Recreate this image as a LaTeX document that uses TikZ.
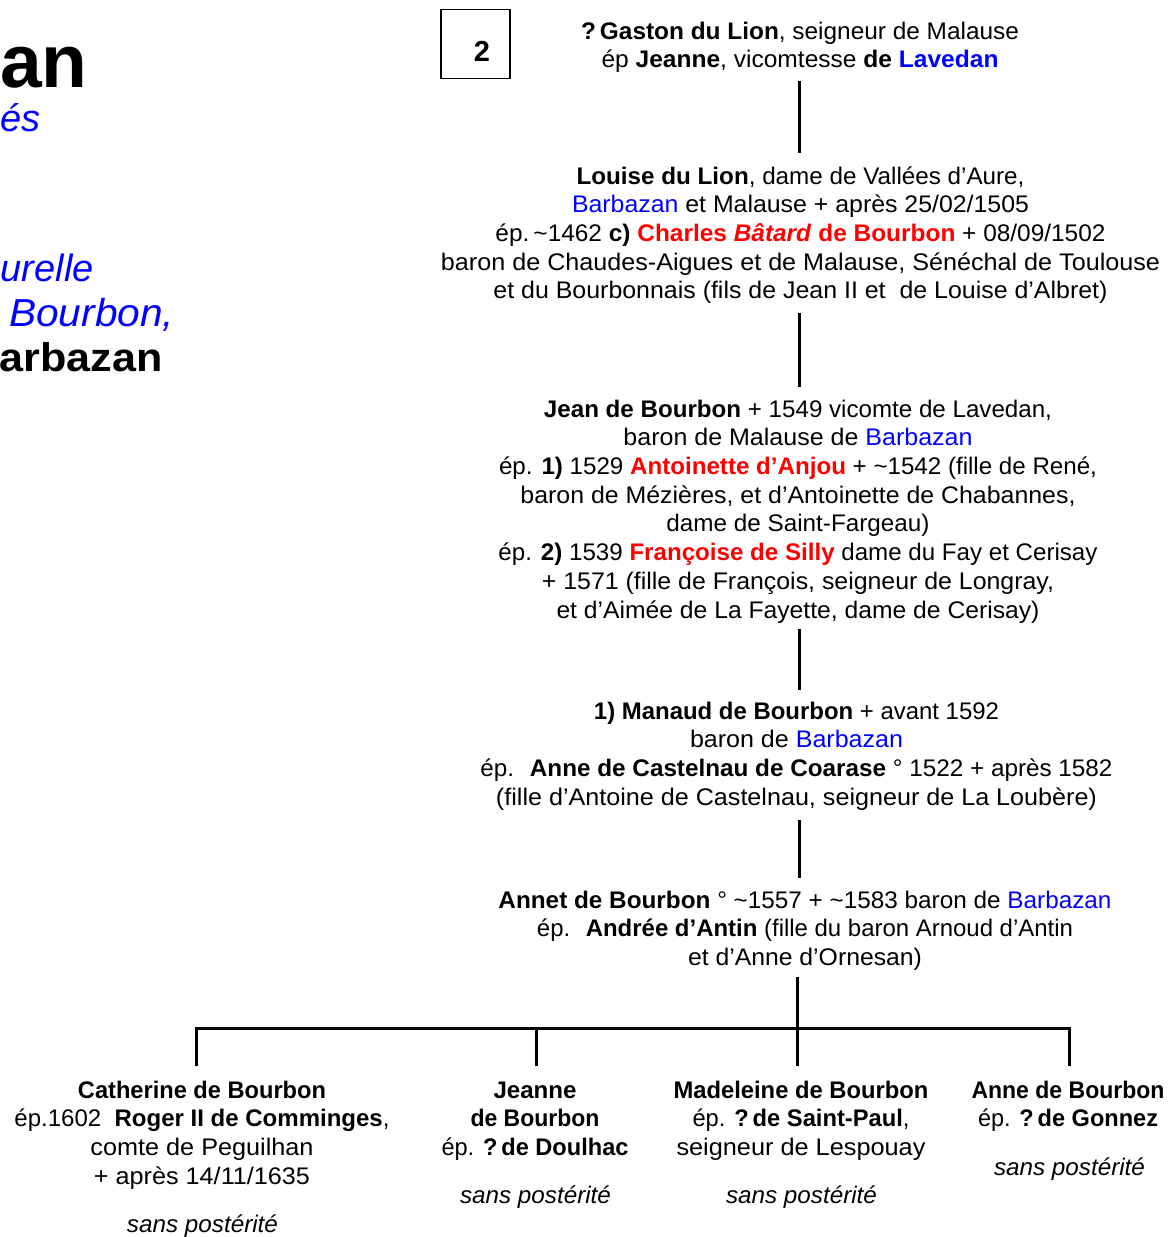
\documentclass[tikz,border=0pt]{standalone}
\usepackage{fontspec}
\usepackage{graphicx}
\setmainfont{Liberation Sans}
\definecolor{lblue}{RGB}{0,0,255}
\definecolor{lred}{RGB}{255,0,0}
\newcommand\fw[2]{\strut\resizebox{#1pt}{\height}{#2}}
\newcommand\bl[1]{\textcolor{lblue}{#1}}
\newcommand\rd[1]{\textcolor{lred}{\bfseries #1}}
\newcommand\tl{\char"7E\relax}
\tikzset{
  blk/.style={align=center, inner sep=0, anchor=north, font=\fontsize{24}{28.7}\selectfont},
  sansp/.style={anchor=base, inner sep=0, font=\fontsize{24}{28.7}\selectfont\itshape},
  conn/.style={line width=3pt},
  ttl/.style={inner sep=0}
}
\begin{document}
\begin{tikzpicture}[x=1pt,y=-1pt]
\useasboundingbox (0,0) rectangle (1168,1237);
% title fragments
\node[ttl, anchor=base east, font=\fontsize{75}{75}\selectfont\bfseries] (t1) at (88,87) {an};
\node[ttl, anchor=base east, font=\fontsize{38}{38}\selectfont\itshape, text=lblue] (t2) at (41,131) {és};
\node[ttl, anchor=base east, font=\fontsize{38}{38}\selectfont\itshape, text=lblue] (t3) at (94,281) {urelle};
\node[ttl, anchor=base west, font=\fontsize{39}{39}\selectfont\itshape, text=lblue] (t4) at (9,326) {\resizebox{165pt}{\height}{Bourbon,}};
\node[ttl, anchor=base east, font=\fontsize{40}{40}\selectfont\bfseries] (t5) at (163,371) {\resizebox{163pt}{\height}{arbazan}};
% box
\node[draw, line width=1.5pt, minimum width=69, minimum height=69, inner sep=0] (box) at (475.5,44) {};
\node[font=\fontsize{29}{29}\selectfont\bfseries, inner sep=0] (two) at (482,51) {2};
% blocks
\node[blk] (b1) at (800,18.9) {%
\fw{438}{\textbf{?\,Gaston du Lion}, seigneur de Malause}\\
\fw{397}{ép \textbf{Jeanne}, vicomtesse \textbf{de \bl{Lavedan}}}};
\node[blk] (b2) at (800.5,163.9) {%
\fw{448}{\textbf{Louise du Lion}, dame de Vallées d’Aure,}\\
\fw{457}{\bl{Barbazan} et Malause + après 25/02/1505}\\
\fw{610}{ép.\,\tl1462 \textbf{c)} \rd{Charles \textit{Bâtard} de Bourbon} + 08/09/1502}\\
\fw{719}{baron de Chaudes-Aigues et de Malause, Sénéchal de Toulouse}\\
\fw{614}{et du Bourbonnais (fils de Jean II et \ de Louise d’Albret)}};
\node[blk] (b3) at (798,396.9) {%
\fw{508}{\textbf{Jean de Bourbon} + 1549 vicomte de Lavedan,}\\
\fw{349}{baron de Malause de \bl{Barbazan}}\\
\fw{598}{ép. \textbf{1)} 1529 \rd{Antoinette d’Anjou} + \tl1542 (fille de René,}\\
\fw{555}{baron de Mézières, et d’Antoinette de Chabannes,}\\
\fw{263}{dame de Saint-Fargeau)}\\
\fw{599}{ép. \textbf{2)} 1539 \rd{Françoise de Silly} dame du Fay et Cerisay}\\
\fw{512}{+ 1571 (fille de François, seigneur de Longray,}\\
\fw{483}{et d’Aimée de La Fayette, dame de Cerisay)}};
\node[blk] (b4) at (796.5,698.9) {%
\fw{405}{\textbf{1) Manaud de Bourbon} + avant 1592}\\
\fw{213}{baron de \bl{Barbazan}}\\
\fw{632}{ép. \ \textbf{Anne de Castelnau de Coarase} ° 1522 + après 1582}\\
\fw{601}{(fille d’Antoine de Castelnau, seigneur de La Loubère)}};
\node[blk] (b5) at (805,887.9) {%
\fw{613}{\textbf{Annet de Bourbon} ° \tl1557 + \tl1583 baron de \bl{Barbazan}}\\
\fw{536}{ép. \ \textbf{Andrée d’Antin} (fille du baron Arnoud d’Antin}\\
\fw{234}{et d’Anne d’Ornesan)}};
% children
\node[blk] (c1) at (202,1077.9) {%
\fw{248}{\textbf{Catherine de Bourbon}}\\
\fw{375}{ép.1602 \ \textbf{Roger II de Comminges},}\\
\fw{223}{comte de Peguilhan}\\
\fw{216}{+ après 14/11/1635}};
\node[blk] (c2) at (535,1077.9) {%
\fw{83}{\textbf{Jeanne}}\\
\fw{129}{\textbf{de Bourbon}}\\
\fw{187}{ép. \textbf{?\,de Doulhac}}};
\node[blk] (c3) at (801,1077.9) {%
\fw{255}{\textbf{Madeleine de Bourbon}}\\
\fw{217}{ép. \textbf{?\,de Saint-Paul},}\\
\fw{249}{seigneur de Lespouay}};
\node[blk] (c4) at (1068,1077.9) {%
\fw{193}{\textbf{Anne de Bourbon}}\\
\fw{180}{ép. \textbf{?\,de Gonnez}}};
\node[sansp] (s1) at (202.5,1232) {\fw{151}{sans postérité}};
\node[sansp] (s2) at (535.5,1203) {\fw{151}{sans postérité}};
\node[sansp] (s3) at (801.5,1203) {\fw{151}{sans postérité}};
\node[sansp] (s4) at (1069.5,1175) {\fw{151}{sans postérité}};
% connectors
\coordinate (ax) at (799,0);
\coordinate (bar) at (797,1028);
\coordinate (d1) at (196,1066);
\coordinate (d2) at (536,1066);
\coordinate (d3) at (797,1066);
\coordinate (d4) at (1069,1066);
\draw[conn, shorten <=4.4pt, shorten >=11.2pt] (b1.south -| ax) -- (b2.north -| ax);
\draw[conn, shorten <=5.6pt, shorten >=9.9pt] (b2.south -| ax) -- (b3.north -| ax);
\draw[conn, shorten <=2.5pt, shorten >=8.9pt] (b3.south -| ax) -- (b4.north -| ax);
\draw[conn, shorten <=6.3pt, shorten >=9.9pt] (b4.south -| ax) -- (b5.north -| ax);
\draw[conn, shorten <=3pt] (b5.south -| bar) -- (d3);
\draw[conn] (d1) -- (d1 |- bar) -- (d4 |- bar) -- (d4);
\draw[conn] (d2 |- bar) -- (d2);
\end{tikzpicture}
\end{document}
